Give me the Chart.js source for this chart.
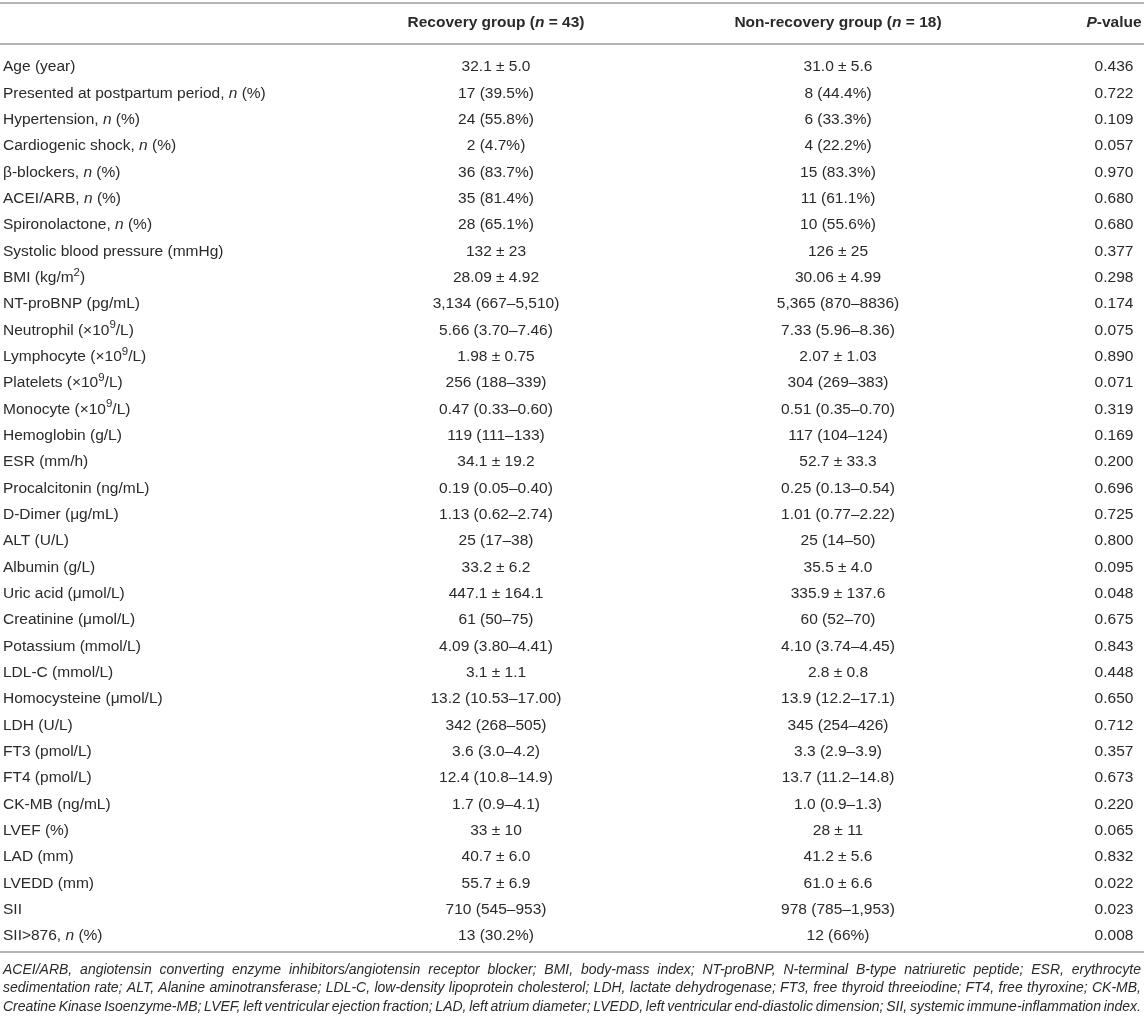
<!DOCTYPE html>
<html>
<head>
<meta charset="utf-8">
<script src="https://cdn.jsdelivr.net/npm/chart.js@4/dist/chart.umd.min.js"></script>
<style>
  html, body { margin: 0; padding: 0; background: #fff; }
  #wrap { width: 1144px; height: 1027px; }
</style>
</head>
<body>
<div id="wrap"><canvas id="tableChart" width="1144" height="1027"></canvas></div>
<script>
// *...* = italic, ^...^ = superscript
const headers = ['', 'Recovery group (*n* = 43)', 'Non-recovery group (*n* = 18)', '*P*-value'];

const rowLabels = [
  'Age (year)',
  'Presented at postpartum period, *n* (%)',
  'Hypertension, *n* (%)',
  'Cardiogenic shock, *n* (%)',
  'β-blockers, *n* (%)',
  'ACEI/ARB, *n* (%)',
  'Spironolactone, *n* (%)',
  'Systolic blood pressure (mmHg)',
  'BMI (kg/m^2^)',
  'NT-proBNP (pg/mL)',
  'Neutrophil (×10^9^/L)',
  'Lymphocyte (×10^9^/L)',
  'Platelets (×10^9^/L)',
  'Monocyte (×10^9^/L)',
  'Hemoglobin (g/L)',
  'ESR (mm/h)',
  'Procalcitonin (ng/mL)',
  'D-Dimer (μg/mL)',
  'ALT (U/L)',
  'Albumin (g/L)',
  'Uric acid (μmol/L)',
  'Creatinine (μmol/L)',
  'Potassium (mmol/L)',
  'LDL-C (mmol/L)',
  'Homocysteine (μmol/L)',
  'LDH (U/L)',
  'FT3 (pmol/L)',
  'FT4 (pmol/L)',
  'CK-MB (ng/mL)',
  'LVEF (%)',
  'LAD (mm)',
  'LVEDD (mm)',
  'SII',
  'SII>876, *n* (%)'
];

const recovery = [
  '32.1 ± 5.0', '17 (39.5%)', '24 (55.8%)', '2 (4.7%)', '36 (83.7%)', '35 (81.4%)',
  '28 (65.1%)', '132 ± 23', '28.09 ± 4.92', '3,134 (667–5,510)', '5.66 (3.70–7.46)',
  '1.98 ± 0.75', '256 (188–339)', '0.47 (0.33–0.60)', '119 (111–133)', '34.1 ± 19.2',
  '0.19 (0.05–0.40)', '1.13 (0.62–2.74)', '25 (17–38)', '33.2 ± 6.2', '447.1 ± 164.1',
  '61 (50–75)', '4.09 (3.80–4.41)', '3.1 ± 1.1', '13.2 (10.53–17.00)', '342 (268–505)',
  '3.6 (3.0–4.2)', '12.4 (10.8–14.9)', '1.7 (0.9–4.1)', '33 ± 10', '40.7 ± 6.0',
  '55.7 ± 6.9', '710 (545–953)', '13 (30.2%)'
];

const nonRecovery = [
  '31.0 ± 5.6', '8 (44.4%)', '6 (33.3%)', '4 (22.2%)', '15 (83.3%)', '11 (61.1%)',
  '10 (55.6%)', '126 ± 25', '30.06 ± 4.99', '5,365 (870–8836)', '7.33 (5.96–8.36)',
  '2.07 ± 1.03', '304 (269–383)', '0.51 (0.35–0.70)', '117 (104–124)', '52.7 ± 33.3',
  '0.25 (0.13–0.54)', '1.01 (0.77–2.22)', '25 (14–50)', '35.5 ± 4.0', '335.9 ± 137.6',
  '60 (52–70)', '4.10 (3.74–4.45)', '2.8 ± 0.8', '13.9 (12.2–17.1)', '345 (254–426)',
  '3.3 (2.9–3.9)', '13.7 (11.2–14.8)', '1.0 (0.9–1.3)', '28 ± 11', '41.2 ± 5.6',
  '61.0 ± 6.6', '978 (785–1,953)', '12 (66%)'
];

const pValues = [
  '0.436', '0.722', '0.109', '0.057', '0.970', '0.680', '0.680', '0.377', '0.298',
  '0.174', '0.075', '0.890', '0.071', '0.319', '0.169', '0.200', '0.696', '0.725',
  '0.800', '0.095', '0.048', '0.675', '0.843', '0.448', '0.650', '0.712', '0.357',
  '0.673', '0.220', '0.065', '0.832', '0.022', '0.023', '0.008'
];

const footnoteLines = [
  'ACEI/ARB, angiotensin converting enzyme inhibitors/angiotensin receptor blocker; BMI, body-mass index; NT-proBNP, N-terminal B-type natriuretic peptide; ESR, erythrocyte',
  'sedimentation rate; ALT, Alanine aminotransferase; LDL-C, low-density lipoprotein cholesterol; LDH, lactate dehydrogenase; FT3, free thyroid threeiodine; FT4, free thyroxine; CK-MB,',
  'Creatine Kinase Isoenzyme-MB; LVEF, left ventricular ejection fraction; LAD, left atrium diameter; LVEDD, left ventricular end-diastolic dimension; SII, systemic immune-inflammation index.'
];

// layout
const W = 1144, H = 1027;
const ROW_H = 26.33, FIRST_Y = 67;
const colX = [3, 496, 838, 1114];
const colAlign = ['left', 'center', 'center', 'center'];
const FONT = '"Liberation Sans", Arial, Helvetica, sans-serif';
const BODY_SIZE = 15.5, HEAD_SIZE = 15.5, NOTE_SIZE = 14;
const TEXT = '#2a2a2a', RULE = '#b4b4b4';

const yMin = -FIRST_Y / ROW_H;
const yMax = yMin + H / ROW_H;
const rowAt = px => (px - FIRST_Y) / ROW_H;

function parseRich(str) {
  const segs = [];
  let italic = false, sup = false, buf = '';
  for (const ch of str) {
    if (ch === '*' || ch === '^') {
      if (buf) segs.push({ text: buf, italic, sup });
      buf = '';
      if (ch === '*') italic = !italic; else sup = !sup;
    } else buf += ch;
  }
  if (buf) segs.push({ text: buf, italic, sup });
  return segs;
}

function fontFor(seg, size, bold) {
  const s = seg.sup ? size * 0.74 : size;
  return (seg.italic ? 'italic ' : '') + (bold ? 'bold ' : '') + s + 'px ' + FONT;
}

function drawRich(ctx, str, x, y, align, size, bold) {
  const segs = parseRich(str);
  let total = 0;
  segs.forEach(seg => {
    ctx.font = fontFor(seg, size, bold);
    seg.w = ctx.measureText(seg.text).width;
    total += seg.w;
  });
  let cx = align === 'left' ? x : align === 'right' ? x - total : x - total / 2;
  ctx.textAlign = 'left';
  ctx.textBaseline = 'middle';
  segs.forEach(seg => {
    ctx.font = fontFor(seg, size, bold);
    ctx.fillText(seg.text, cx, seg.sup ? y - size * 0.32 : y);
    cx += seg.w;
  });
}

const tablePlugin = {
  id: 'tableText',
  afterDatasetsDraw(chart) {
    const { ctx, scales: { x, y } } = chart;
    ctx.save();
    ctx.fillStyle = TEXT;

    // rules
    ctx.strokeStyle = RULE;
    ctx.lineWidth = 2;
    [rowAt(3), rowAt(44), rowAt(952)].forEach(v => {
      const py = y.getPixelForValue(v);
      ctx.beginPath();
      ctx.moveTo(x.getPixelForValue(0), py);
      ctx.lineTo(x.getPixelForValue(W), py);
      ctx.stroke();
    });

    // header
    const hy = y.getPixelForValue(rowAt(23));
    headers.forEach((h, c) => {
      if (h) drawRich(ctx, h, x.getPixelForValue(colX[c]), hy, colAlign[c], HEAD_SIZE, true);
    });

    // cells, placed at the dataset points
    chart.data.datasets.forEach((ds, c) => {
      const meta = chart.getDatasetMeta(c);
      meta.data.forEach((pt, i) => {
        drawRich(ctx, ds.cells[i], pt.x, pt.y, colAlign[c], BODY_SIZE, false);
      });
    });

    // footnote, justified
    const left = x.getPixelForValue(3), right = x.getPixelForValue(1141);
    ctx.font = 'italic ' + NOTE_SIZE + 'px ' + FONT;
    ctx.textBaseline = 'middle';
    ctx.textAlign = 'left';
    [970, 988.5, 1007].forEach((py, li) => {
      const words = footnoteLines[li].split(' ');
      const widths = words.map(w => ctx.measureText(w).width);
      const sum = widths.reduce((a, b) => a + b, 0);
      const gap = (right - left - sum) / (words.length - 1);
      let cx = left;
      const yy = y.getPixelForValue(rowAt(py));
      words.forEach((w, k) => {
        ctx.fillText(w, cx, yy);
        cx += widths[k] + gap;
      });
    });
    ctx.restore();
  }
};

const columns = [rowLabels, recovery, nonRecovery, pValues];

new Chart(document.getElementById('tableChart'), {
  type: 'scatter',
  data: {
    datasets: columns.map((cells, c) => ({
      label: c === 0 ? 'label' : headers[c],
      cells: cells,
      data: cells.map((_, i) => ({ x: colX[c], y: i })),
      pointRadius: 0,
      pointHoverRadius: 0
    }))
  },
  options: {
    responsive: false,
    animation: false,
    events: [],
    layout: { padding: 0 },
    plugins: {
      legend: { display: false },
      tooltip: { enabled: false },
      title: { display: false }
    },
    scales: {
      x: { type: 'linear', display: false, min: 0, max: W },
      y: { type: 'linear', display: false, reverse: true, min: yMin, max: yMax }
    }
  },
  plugins: [tablePlugin]
});
</script>
</body>
</html>
